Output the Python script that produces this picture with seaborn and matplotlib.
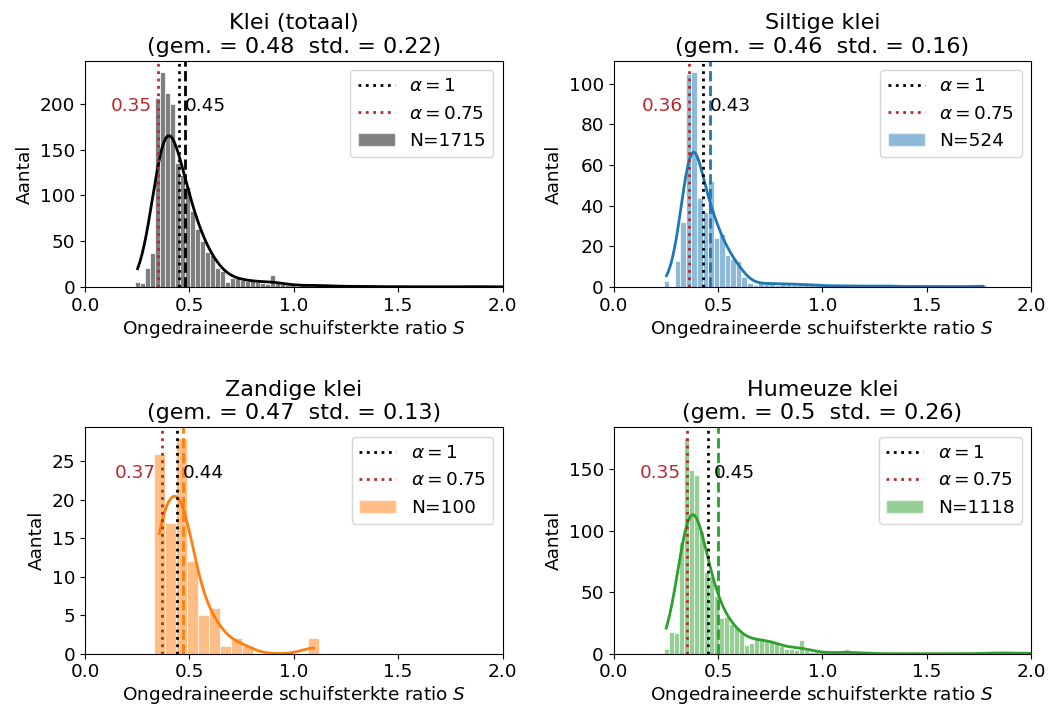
import numpy as np
import pandas as pd
import matplotlib
matplotlib.use("Agg")
import matplotlib.pyplot as plt
import matplotlib.transforms as mtransforms
from matplotlib.lines import Line2D
from matplotlib.patches import Patch
import seaborn as sns

# ---------------- data ----------------
titles = ["Klei (totaal)", "Siltige klei", "Zandige klei", "Humeuze klei"]
n_labels = [1715, 524, 100, 1118]
mean_vals = [0.48, 0.46, 0.47, 0.5]
std_vals = [0.22, 0.16, 0.13, 0.26]
alpha1_vals = [0.45, 0.43, 0.44, 0.45]
alpha075_vals = [0.35, 0.36, 0.37, 0.35]
colors = ["black", "tab:blue", "tab:orange", "tab:green"]

# histogram bins (first edge, bin width) and counts per bin
bin_start = [0.24, 0.24, 0.33, 0.24]
bin_width = [0.024, 0.0266, 0.0528, 0.024]
# KDE smoothing relative to Scott's rule on the full sample
kde_bw_scale = [1.26, 0.8, 1.0, 1.15]

counts_klei = [6, 4, 21, 37, 206, 235, 212, 200, 135, 122, 109, 83, 63, 50, 38, 35, 21, 18,
               6, 10, 10, 8, 7, 7, 6, 4, 3, 13,
               4, 3, 2, 2, 1, 3, 2, 1, 2, 3, 1, 1, 1, 0, 1, 1, 2, 1, 0, 1, 0, 1, 0, 1, 0, 1,
               0, 0, 1, 0, 0, 1, 0, 0, 1, 0, 0, 1, 2, 0, 0, 1, 0, 0, 1, 0, 1, 0, 0, 0, 1,
               0, 0, 0, 0, 0, 0, 0, 1]
counts_siltig = [3, 0, 13, 32, 105, 106, 44, 37, 52, 24, 26, 16, 14, 13, 5,
                 2, 1, 2, 2, 2, 1, 2, 2, 1, 1, 2, 1, 1, 1, 0, 1, 1, 0, 1, 0, 1, 0, 1, 0,
                 1, 1, 0, 0, 1, 0, 0, 1, 0, 0, 1, 0, 0, 1, 0, 0, 0, 1, 1]
counts_zandig = [26, 17, 28, 12, 5, 6, 1, 2, 1, 0, 0, 0, 0, 0, 2]
counts_humeus = [4, 18, 17, 91, 175, 149, 145, 100, 66, 63, 47, 29, 30, 24, 22, 17, 7, 9,
                 13, 13, 11, 11, 9, 6, 4, 4, 3, 11, 3,
                 1, 1, 1, 1, 0, 1, 0, 4, 0, 1, 0, 1,
                 0, 0, 0, 0, 0, 0, 0, 0, 0, 0, 0, 0, 0, 0, 0, 0, 0, 0, 0, 0, 0, 0, 0, 0,
                 2, 0, 0, 2, 0, 0, 0, 1, 0, 0, 1]
all_counts = [counts_klei, counts_siltig, counts_zandig, counts_humeus]

red = "#b8292b"
FS = 13.3

fig, axes = plt.subplots(2, 2, figsize=(10.49, 7.16), dpi=100)
fig.subplots_adjust(left=0.081, right=0.983, top=0.915, bottom=0.087,
                    wspace=0.266, hspace=0.62)

for i, ax in enumerate(axes.flat):
    counts = np.asarray(all_counts[i], dtype=float)
    bw = bin_width[i]
    centers = bin_start[i] + bw * (np.arange(len(counts)) + 0.5)
    df = pd.DataFrame({"S": centers, "n": counts})
    df = df[df["n"] > 0]
    w = df["n"].to_numpy()
    # binned (weighted) input: match the Scott bandwidth of the full sample size
    n_eff = w.sum() ** 2 / (w ** 2).sum()
    adjust = (n_eff / w.sum()) ** 0.2 * kde_bw_scale[i]
    c = colors[i]
    sns.histplot(data=df, x="S", weights="n", binwidth=bw,
                 binrange=(bin_start[i], bin_start[i] + bw * len(counts)),
                 kde=True, kde_kws={"bw_adjust": adjust},
                 color=c, alpha=0.5, edgecolor="white", linewidth=0.5,
                 line_kws={"lw": 2}, ax=ax)
    ax.axvline(alpha1_vals[i], color="black", ls=":", lw=2)
    ax.axvline(alpha075_vals[i], color=red, ls=":", lw=2)
    ax.axvline(mean_vals[i], color=c, ls="--", lw=2)
    trans = mtransforms.blended_transform_factory(ax.transData, ax.transAxes)
    ax.text(alpha075_vals[i] - 0.03, 0.8, f"{alpha075_vals[i]}", color=red,
            ha="right", va="center", fontsize=FS, transform=trans)
    ax.text(alpha1_vals[i] + 0.03, 0.8, f"{alpha1_vals[i]}", color="black",
            ha="left", va="center", fontsize=FS, transform=trans)
    ax.set_xlim(0, 2.0)
    ax.set_xticks([0.0, 0.5, 1.0, 1.5, 2.0])
    ax.tick_params(labelsize=FS)
    ax.set_xlabel("Ongedraineerde schuifsterkte ratio $S$", fontsize=FS, labelpad=2)
    ax.set_ylabel("Aantal", fontsize=FS)
    ax.set_title(f"{titles[i]}\n(gem. = {mean_vals[i]}  std. = {std_vals[i]})",
                 fontsize=16)
    handles = [Line2D([], [], color="black", ls=":", lw=2),
               Line2D([], [], color=red, ls=":", lw=2),
               Patch(facecolor=c, alpha=0.5, edgecolor="white")]
    labels = [r"$\alpha = 1$", r"$\alpha = 0.75$", f"N={n_labels[i]}"]
    ax.legend(handles, labels, loc="upper right", fontsize=FS)

fig.savefig("out.png", dpi=100)
